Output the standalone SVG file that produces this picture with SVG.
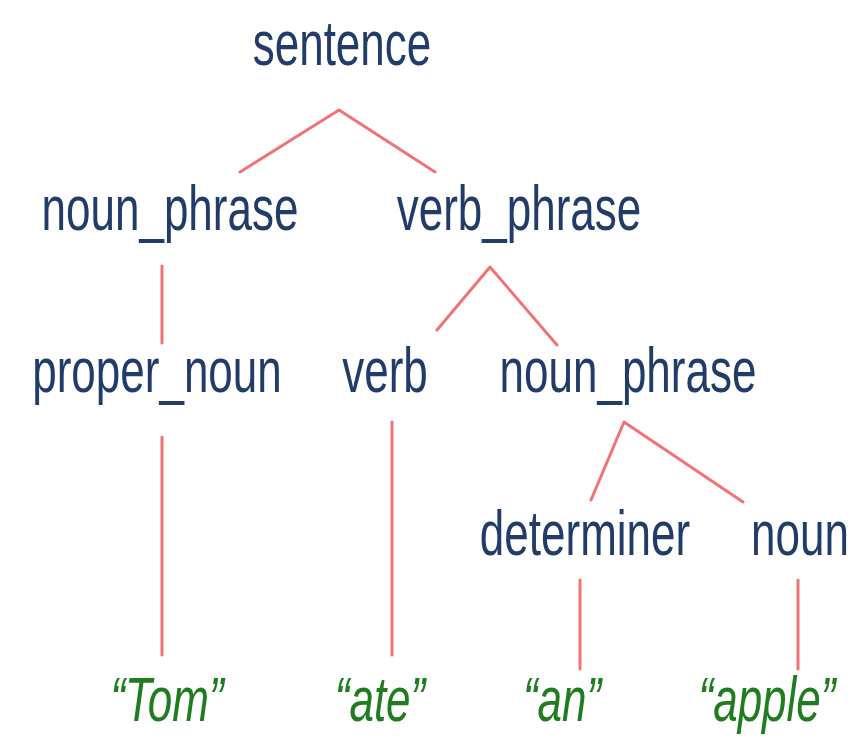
<svg xmlns="http://www.w3.org/2000/svg" width="868" height="748" viewBox="0 0 868 748">
<style>
.n{font-family:"Liberation Sans",Arial,sans-serif;font-size:44px;fill:#223c6a;text-anchor:middle}
.l{font-family:"Liberation Sans",Arial,sans-serif;font-size:44px;font-style:italic;fill:#1f7d1f;text-anchor:middle}
.e{stroke:#f27373;stroke-width:3;fill:none;stroke-linecap:round;stroke-linejoin:round}
</style>
<rect width="868" height="748" fill="#ffffff"/>
<g id="connectors">
<polyline class="e" points="240,172 339,110 435,172"/>
<line class="e" x1="162" y1="266" x2="162" y2="343"/>
<polyline class="e" points="437,330 490,267 557,345"/>
<line class="e" x1="162" y1="437" x2="162" y2="655"/>
<line class="e" x1="392" y1="422" x2="392" y2="655"/>
<polyline class="e" points="591,500 624,422 743,502"/>
<line class="e" x1="580" y1="580" x2="580" y2="669"/>
<line class="e" x1="798" y1="580" x2="798" y2="669"/>
</g>
<g id="sentence"><text class="n" transform="translate(342,65) scale(1,1.45)">sentence</text></g>
<g id="noun_phrase1"><text class="n" transform="translate(170,230) scale(1,1.45)">noun_phrase</text></g>
<g id="verb_phrase"><text class="n" transform="translate(519,230) scale(1,1.45)">verb_phrase</text></g>
<g id="proper_noun"><text class="n" transform="translate(157,392) scale(1,1.45)">proper_noun</text></g>
<g id="verb"><text class="n" transform="translate(385,392) scale(1,1.45)">verb</text></g>
<g id="noun_phrase2"><text class="n" transform="translate(628,392) scale(1,1.45)">noun_phrase</text></g>
<g id="determiner"><text class="n" transform="translate(585,555) scale(1,1.45)">determiner</text></g>
<g id="noun"><text class="n" transform="translate(800,555) scale(1,1.45)">noun</text></g>
<g id="tom"><text class="l" transform="translate(167,721) scale(1,1.42)">“Tom”</text></g>
<g id="ate"><text class="l" transform="translate(380,721) scale(1,1.42)">“ate”</text></g>
<g id="an"><text class="l" transform="translate(562,721) scale(1,1.42)">“an”</text></g>
<g id="apple"><text class="l" transform="translate(767,721) scale(1,1.42)">“apple”</text></g>
</svg>
